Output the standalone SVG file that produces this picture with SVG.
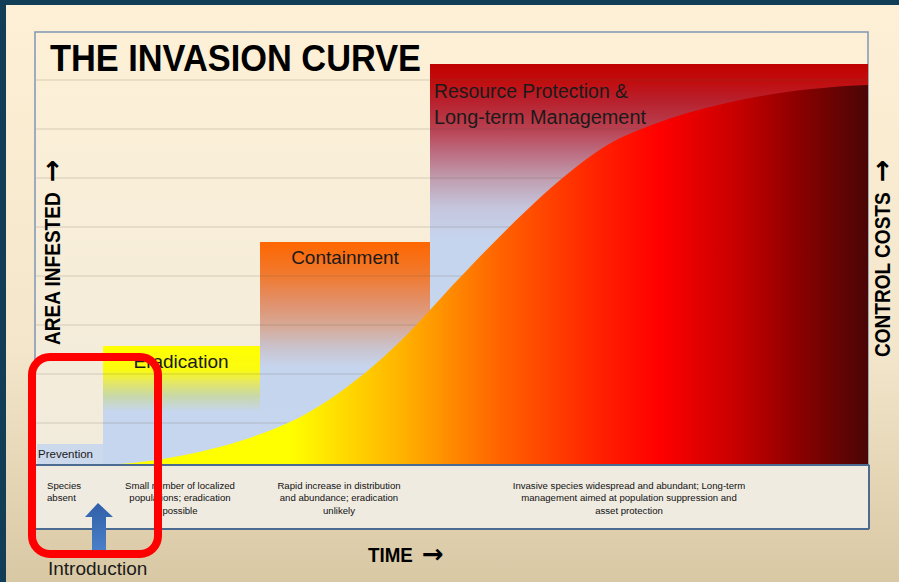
<svg xmlns="http://www.w3.org/2000/svg" width="899" height="582" viewBox="0 0 899 582">
<defs>
<style>
.lbl{font-family:"Liberation Sans",Arial,sans-serif;fill:#1a1a1a}
.hd{font-family:"Liberation Sans",Arial,sans-serif;font-weight:bold;fill:#000}
.arr{font-family:"DejaVu Sans",sans-serif;font-weight:bold}
.sm{font-family:"Liberation Sans",Arial,sans-serif;font-size:9.6px;fill:#111;text-anchor:middle}
.grid{stroke:#5a5040;stroke-opacity:0.22;stroke-width:1.2}
</style>
<linearGradient id="bg" x1="0" y1="0" x2="0" y2="1">
<stop offset="0" stop-color="#fdf0d6"/><stop offset="0.6" stop-color="#f3e6cb"/><stop offset="1" stop-color="#d9c8a4"/>
</linearGradient>
<linearGradient id="plotbg" x1="0" y1="0" x2="0" y2="1">
<stop offset="0" stop-color="#fdf0d6"/><stop offset="1" stop-color="#f1ebdc"/>
</linearGradient>
<linearGradient id="gErad" x1="0" y1="0" x2="0" y2="1">
<stop offset="0" stop-color="#ffff00"/><stop offset="0.2" stop-color="#fbfb10"/><stop offset="0.3" stop-color="#e6e860"/><stop offset="0.42" stop-color="#c8d8a8"/><stop offset="0.55" stop-color="#c6d6ee"/><stop offset="1" stop-color="#c6d6ef"/>
</linearGradient>
<linearGradient id="gCont" x1="0" y1="0" x2="0" y2="1">
<stop offset="0" stop-color="#ff6600"/><stop offset="0.15" stop-color="#f07a30"/><stop offset="0.27" stop-color="#e2906a"/><stop offset="0.38" stop-color="#d6aa98"/><stop offset="0.47" stop-color="#cac2cc"/><stop offset="0.56" stop-color="#c6d5ee"/><stop offset="1" stop-color="#c6d6ef"/>
</linearGradient>
<linearGradient id="gRes" x1="0" y1="0" x2="0" y2="1">
<stop offset="0" stop-color="#c00000"/><stop offset="0.04" stop-color="#c20c0c"/><stop offset="0.09" stop-color="#b8202c"/><stop offset="0.16" stop-color="#b84050"/><stop offset="0.22" stop-color="#bd6c80"/><stop offset="0.29" stop-color="#c0a0b2"/><stop offset="0.36" stop-color="#c5c6de"/><stop offset="0.44" stop-color="#c6d5ee"/><stop offset="1" stop-color="#c6d6ef"/>
</linearGradient>
<linearGradient id="gCurve" gradientUnits="userSpaceOnUse" x1="103" y1="0" x2="868" y2="0">
<stop offset="0" stop-color="#ffff00"/><stop offset="0.244" stop-color="#ffff00"/><stop offset="0.388" stop-color="#ffb400"/><stop offset="0.52" stop-color="#ff6200"/><stop offset="0.65" stop-color="#ff2000"/><stop offset="0.728" stop-color="#ff0000"/><stop offset="0.833" stop-color="#c40000"/><stop offset="0.911" stop-color="#8a0000"/><stop offset="1" stop-color="#4a0606"/>
</linearGradient>
<linearGradient id="gArrow" x1="0" y1="0" x2="0" y2="1">
<stop offset="0" stop-color="#2f5fa8"/><stop offset="1" stop-color="#4a80c8"/>
</linearGradient>
</defs>

<g id="background">
<rect x="0" y="0" width="899" height="582" fill="url(#bg)"/>
<rect x="0" y="0" width="899" height="5" fill="#123d57"/>
<rect x="0" y="0" width="6" height="582" fill="#123d57"/>
</g>

<g id="plot-area">
<rect x="35" y="32" width="833" height="433" fill="url(#plotbg)" stroke="#7f96b2" stroke-width="1.5"/>
</g>

<g id="prevention">
<rect x="37" y="444" width="66" height="21" fill="#ccd8ec"/>
<text class="lbl" x="38" y="458" font-size="11.5">Prevention</text>
</g>

<g id="eradication">
<rect x="103" y="346" width="157" height="119" fill="url(#gErad)"/>
</g>

<g id="containment">
<rect x="260" y="242" width="170" height="223" fill="url(#gCont)"/>
</g>

<g id="resource-protection">
<rect x="430" y="64" width="438" height="401" fill="url(#gRes)"/>
</g>

<g id="gridlines">
<line class="grid" x1="36" y1="80" x2="868" y2="80"/>
<line class="grid" x1="36" y1="129" x2="868" y2="129"/>
<line class="grid" x1="36" y1="178" x2="868" y2="178"/>
<line class="grid" x1="36" y1="227" x2="868" y2="227"/>
<line class="grid" x1="36" y1="276" x2="868" y2="276"/>
<line class="grid" x1="36" y1="325" x2="868" y2="325"/>
<line class="grid" x1="36" y1="374" x2="868" y2="374"/>
<line class="grid" x1="36" y1="423" x2="868" y2="423"/>
</g>

<g id="invasion-curve">
<path d="M103,465 C170,462 240,445 290,422 C340,399 395,350 430,310 C480,255 565,165 620,138 C690,106 780,88 868,85 L868,465 Z" fill="url(#gCurve)"/>
</g>

<g id="box-labels">
<text class="lbl" x="181" y="368" font-size="19" text-anchor="middle">Eradication</text>
<text class="lbl" x="345" y="264" font-size="19" text-anchor="middle">Containment</text>
<text class="lbl" x="434" y="98" font-size="19.5" textLength="194" lengthAdjust="spacingAndGlyphs">Resource Protection &amp;</text>
<text class="lbl" x="434" y="124" font-size="19.5" textLength="212" lengthAdjust="spacingAndGlyphs">Long-term Management</text>
</g>

<g id="title">
<text class="hd" x="50" y="71" font-size="37" textLength="371" lengthAdjust="spacingAndGlyphs">THE INVASION CURVE</text>
</g>

<g id="table">
<rect x="35" y="465" width="834" height="64" fill="#efebe1" stroke="#7f96b2" stroke-width="1.2"/>
<line x1="35" y1="465" x2="869" y2="465" stroke="#4d6b90" stroke-width="2"/>
<line x1="35" y1="529" x2="869" y2="529" stroke="#4d6b90" stroke-width="2"/>
<line x1="869" y1="465" x2="869" y2="529" stroke="#4d6b90" stroke-width="2"/>
<text class="sm" x="47" y="489" style="text-anchor:start">Species</text>
<text class="sm" x="47" y="501" style="text-anchor:start">absent</text>
<text class="sm" x="180" y="489">Small number of localized</text>
<text class="sm" x="180" y="501">populations; eradication</text>
<text class="sm" x="180" y="514">possible</text>
<text class="sm" x="339" y="489">Rapid increase in distribution</text>
<text class="sm" x="339" y="501">and abundance; eradication</text>
<text class="sm" x="339" y="514">unlikely</text>
<text class="sm" x="629" y="489">Invasive species widespread and abundant; Long-term</text>
<text class="sm" x="629" y="501">management aimed at population suppression and</text>
<text class="sm" x="629" y="514">asset protection</text>
</g>

<g id="axis-labels">
<text class="hd" transform="translate(60,345) rotate(-90)" font-size="21.5"><tspan x="0" textLength="158" lengthAdjust="spacingAndGlyphs">AREA INFESTED </tspan><tspan class="arr" x="163" font-size="27" dy="1">→</tspan></text>
<text class="hd" transform="translate(890,357) rotate(-90)" font-size="21.5"><tspan x="0" textLength="170" lengthAdjust="spacingAndGlyphs">CONTROL COSTS </tspan><tspan class="arr" x="175" font-size="27" dy="1">→</tspan></text>
<text class="hd" x="368" y="562" font-size="21"><tspan textLength="50" lengthAdjust="spacingAndGlyphs">TIME </tspan><tspan class="arr" x="422" font-size="26" dy="1">→</tspan></text>
</g>

<g id="introduction">
<path d="M92,517 L85,517 L98,503 L113,517 L106,517 L106,551 L92,551 Z" fill="url(#gArrow)"/>
<text class="lbl" x="48" y="575" font-size="19" fill="#222">Introduction</text>
</g>

<g id="highlight">
<rect x="32" y="357" width="126" height="197" rx="18" ry="18" fill="none" stroke="#ff0000" stroke-width="8"/>
</g>
</svg>
